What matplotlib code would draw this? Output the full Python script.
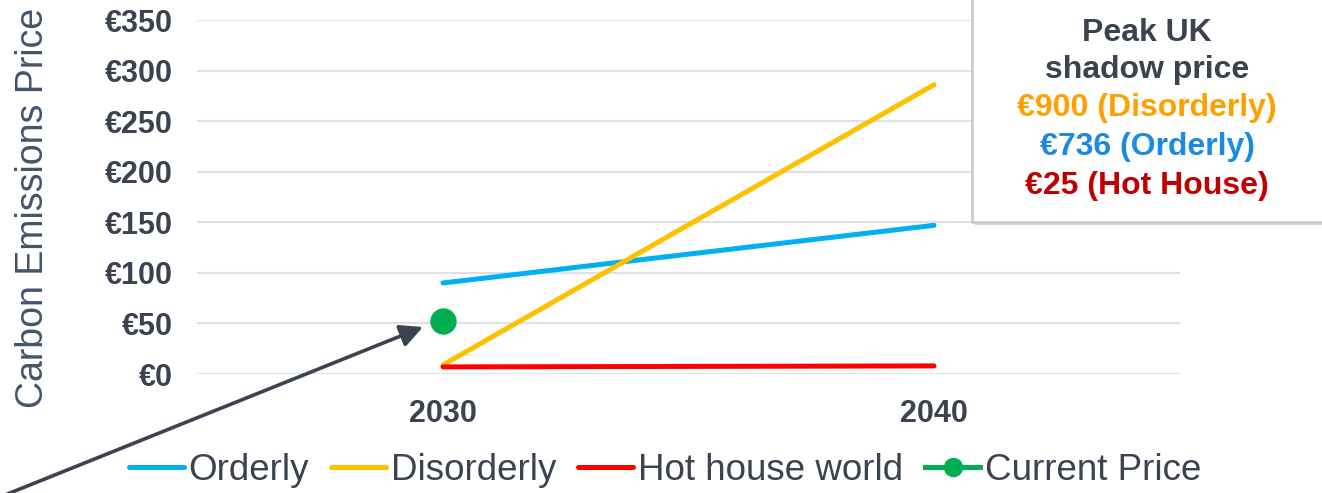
import matplotlib
matplotlib.use("Agg")
import matplotlib.pyplot as plt
from matplotlib.patches import Rectangle
from matplotlib.lines import Line2D

plt.rcParams['font.family'] = ['Liberation Sans', 'DejaVu Sans']

# Data
years = ["2030", "2040"]
orderly = [90, 147]
disorderly = [9, 286]
hot_house = [7, 8]
current_price = [52]  # at 2030
y_ticks = [0, 50, 100, 150, 200, 250, 300, 350]
y_tick_labels = ["€0", "€50", "€100", "€150", "€200", "€250", "€300", "€350"]
peak_lines = [
    ("Peak UK", "#3b4250"),
    ("shadow price", "#3b4250"),
    ("€900 (Disorderly)", "#ffa000"),
    ("€736 (Orderly)", "#1a8be0"),
    ("€25 (Hot House)", "#c00000"),
]

TEXT = "#3b4250"
W, H = 1322, 493
fig = plt.figure(figsize=(W / 100, H / 100), dpi=100)
ax = fig.add_axes([197.5 / W, 1 - 374 / H, 982 / W, 354 / H])

x = list(range(len(years)))
ax.plot(x, orderly, color="#00b0f0", lw=3.6, solid_capstyle="round", zorder=3)
ax.plot(x, disorderly, color="#ffc000", lw=3.6, solid_capstyle="round", zorder=3)
ax.plot(x, hot_house, color="#ff0000", lw=3.6, solid_capstyle="round", zorder=4)
ax.plot([0], current_price, "o", color="#00b050", ms=18, zorder=5)

ax.set_xlim(-0.5, 1.5)
ax.set_ylim(0, 350)
ax.set_yticks(y_ticks)
ax.set_yticklabels(y_tick_labels)
ax.set_xticks(x)
ax.set_xticklabels(years)
for lab in ax.get_yticklabels() + ax.get_xticklabels():
    lab.set_fontweight("bold")
    lab.set_fontsize(22)
    lab.set_color(TEXT)
ax.tick_params(axis="y", length=0, pad=18)
ax.tick_params(axis="x", length=0, pad=18)
ax.grid(axis="y", color="#dde1e6", lw=1.5, zorder=0)
ax.set_axisbelow(True)
for s in ax.spines.values():
    s.set_visible(False)

fig.text(33 / W, 1 - 208 / H, "Carbon Emissions Price", rotation=90,
         fontsize=27, color="#44546a", ha="center", va="center")

# Arrow pointing at the current price
ax.annotate("", xy=(423, H - 327), xycoords="figure pixels",
            xytext=(0, H - 497), textcoords="figure pixels",
            arrowprops=dict(arrowstyle="-|>", color=TEXT, lw=2.6,
                            mutation_scale=34, shrinkA=0, shrinkB=0),
            annotation_clip=False)

# Peak price box with a soft drop shadow
box_left = 972 / W
box_bottom = 1 - 222 / H
fig.patches.append(Rectangle((box_left + 3 / W, box_bottom - 3 / H), 0.5, 0.6,
                             transform=fig.transFigure, facecolor="#d3d6d9",
                             edgecolor="none", zorder=5))
fig.patches.append(Rectangle((box_left, box_bottom), 0.5, 0.6,
                             transform=fig.transFigure, facecolor="white",
                             edgecolor="#c9ccce", lw=2.0, zorder=6))
ys = [33, 70, 108, 147, 186]
for (txt, col), yy in zip(peak_lines, ys):
    fig.text(1147 / W, 1 - yy / H, txt, color=col, fontsize=23,
             fontweight="bold", ha="center", va="center", zorder=7)

handles = [
    Line2D([], [], color="#00b0f0", lw=3.6, solid_capstyle="round"),
    Line2D([], [], color="#ffc000", lw=3.6, solid_capstyle="round"),
    Line2D([], [], color="#ff0000", lw=3.6, solid_capstyle="round"),
    Line2D([], [], color="#00b050", lw=3.6, marker="o", ms=13),
]
labels = ["Orderly", "Disorderly", "Hot house world", "Current Price"]
leg = fig.legend(handles, labels, loc="center", bbox_to_anchor=(665 / W, 1 - 470 / H),
                 ncol=4, frameon=False, fontsize=26.5, handlelength=1.5,
                 handletextpad=0.12, columnspacing=0.6, borderpad=0)
for t in leg.get_texts():
    t.set_color(TEXT)

fig.savefig("out.png", dpi=100, facecolor="white")
